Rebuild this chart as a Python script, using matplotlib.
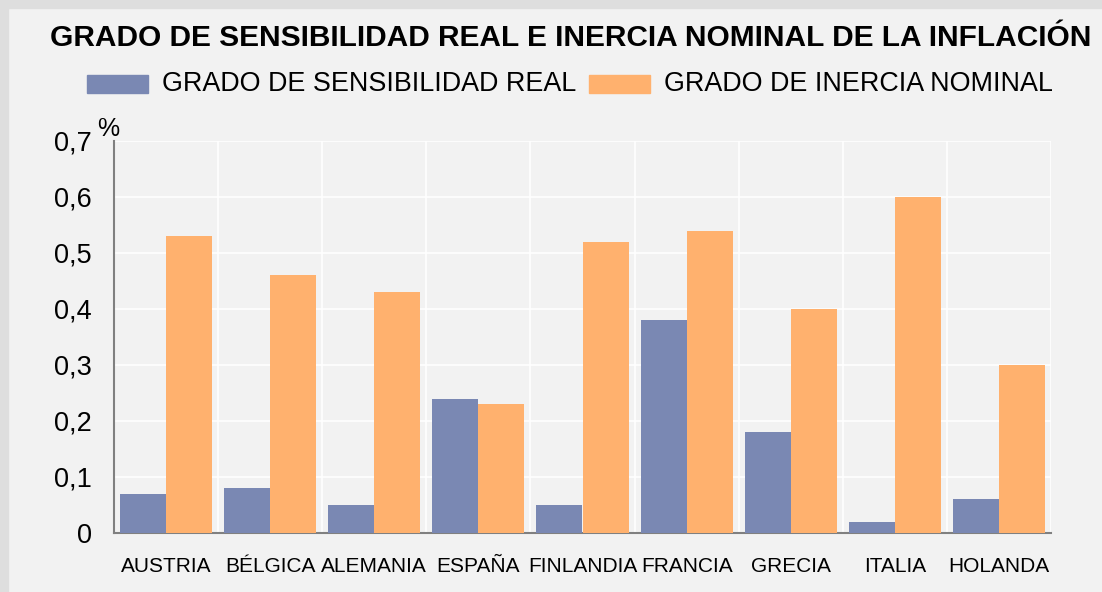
import numpy as np
import matplotlib.pyplot as plt
from matplotlib.patches import Rectangle

plt.rcParams['font.family'] = ['Liberation Sans', 'DejaVu Sans']

paises = ["AUSTRIA", "BÉLGICA", "ALEMANIA", "ESPAÑA", "FINLANDIA", "FRANCIA", "GRECIA", "ITALIA", "HOLANDA"]
sensibilidad = [0.07, 0.08, 0.05, 0.24, 0.05, 0.38, 0.18, 0.02, 0.06]
inercia = [0.53, 0.46, 0.43, 0.23, 0.52, 0.54, 0.40, 0.60, 0.30]
yticks = [0, 0.1, 0.2, 0.3, 0.4, 0.5, 0.6, 0.7]
ylabels = ["0", "0,1", "0,2", "0,3", "0,4", "0,5", "0,6", "0,7"]
series = ["GRADO DE SENSIBILIDAD REAL", "GRADO DE INERCIA NOMINAL"]
colores = ['#7a88b3', '#ffb16e']

fig = plt.figure(figsize=(11.02, 5.92), dpi=100, facecolor='#f2f2f2')
W, H = 1102, 592
# light gray frame on top and left
fig.patches.append(Rectangle((0, 1 - 8 / H), 1, 8 / H, transform=fig.transFigure, color='#dedede', zorder=0))
fig.patches.append(Rectangle((0, 0), 8 / W, 1, transform=fig.transFigure, color='#dedede', zorder=0))

ax = fig.add_axes([114 / W, 1 - 533 / H, (1051 - 114) / W, (533 - 141) / H])
ax.set_facecolor('#f2f2f2')

x = np.arange(len(paises))
bw = 0.442
ax.bar(x - bw / 2, sensibilidad, bw, color=colores[0], zorder=3)
ax.bar(x + bw / 2, inercia, bw, color=colores[1], zorder=3)

ax.set_xlim(-0.5, len(paises) - 0.5)
ax.set_ylim(0, 0.7)
ax.set_yticks(yticks)
ax.set_yticklabels(ylabels, fontsize=19.5)
ax.set_xticks(x)
ax.set_xticklabels(paises, fontsize=15)
ax.set_xticks(np.arange(len(paises) + 1) - 0.5, minor=True)
ax.tick_params(axis='both', which='both', length=0)
ax.tick_params(axis='y', pad=16)
ax.tick_params(axis='x', pad=17)
ax.grid(True, axis='y', color='white', lw=1.2, zorder=1)
ax.grid(True, axis='x', which='minor', color='white', lw=1.2, zorder=1)
ax.grid(False, axis='x', which='major')

for s in ['top', 'right']:
    ax.spines[s].set_visible(False)
for s in ['left', 'bottom']:
    ax.spines[s].set_color('#808080')
    ax.spines[s].set_linewidth(1.5)

fig.text(97 / W, 1 - 136 / H, "%", fontsize=18, ha='left', va='baseline')

fig.text(571 / W, 1 - 38 / H, "GRADO DE SENSIBILIDAD REAL E INERCIA NOMINAL DE LA INFLACIÓN",
         fontsize=21.5, fontweight='bold', ha='center', va='center')

# legend drawn by hand to match spacing
leg_x = [87, 589]
for lx, nombre, c in zip(leg_x, series, colores):
    fig.patches.append(Rectangle((lx / W, 1 - 93 / H), 61 / W, 18 / H, transform=fig.transFigure, color=c))
    fig.text((lx + 75) / W, 1 - 84 / H, nombre, fontsize=19.4, ha='left', va='center')

fig.savefig('out.png', dpi=100, facecolor=fig.get_facecolor())
